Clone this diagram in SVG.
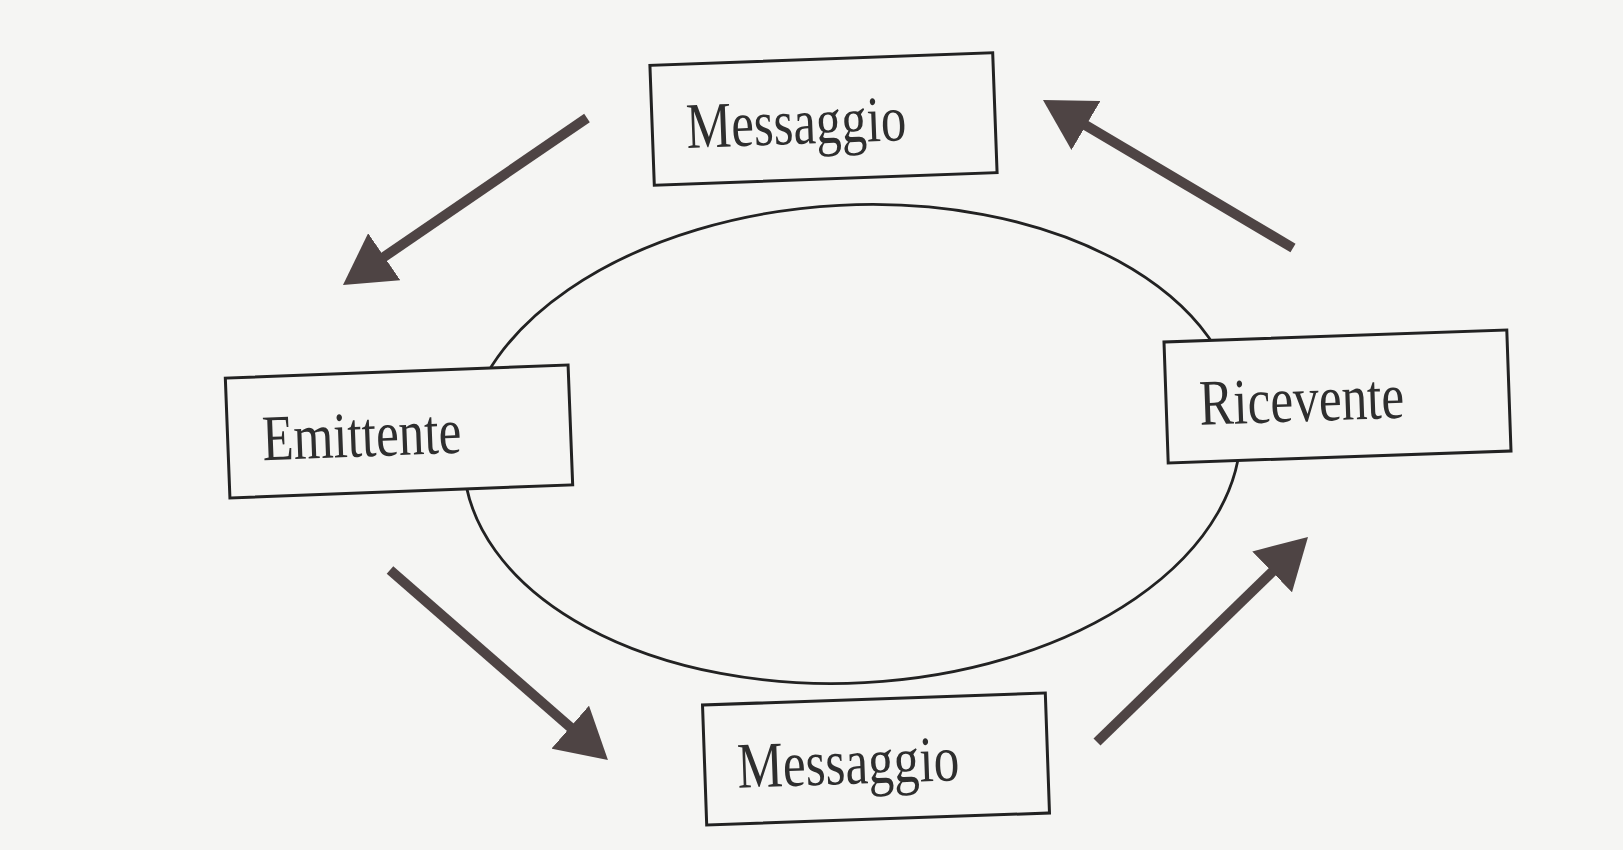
<svg xmlns="http://www.w3.org/2000/svg" width="1623" height="850" viewBox="0 0 1623 850">
<style>
.box{fill:#f5f5f3;stroke:#222;stroke-width:3}
.lbl{font-family:"Liberation Serif","Times New Roman",serif;font-size:65px;fill:#2e2e2e}
.arr{stroke:#4e4444;stroke-width:10;fill:none}
.ell{fill:none;stroke:#222;stroke-width:2.8}
</style>
<defs>
<marker id="head" viewBox="0 0 50 57" refX="10" refY="28.5" markerWidth="50" markerHeight="57" markerUnits="userSpaceOnUse" orient="auto">
<path d="M0,0 L50,28.5 L0,57 z" fill="#4e4444"/>
</marker>
</defs>
<rect width="1623" height="850" fill="#f5f5f3"/>
<ellipse class="ell" cx="852" cy="444" rx="389" ry="239" transform="rotate(-3 852 444)"/>
<g id="connectors">
<line class="arr" x1="587" y1="118" x2="376" y2="262.4" marker-end="url(#head)"/>
<line class="arr" x1="1293" y1="248" x2="1077.4" y2="120.4" marker-end="url(#head)"/>
<line class="arr" x1="390" y1="570" x2="577.8" y2="733.7" marker-end="url(#head)"/>
<line class="arr" x1="1097" y1="742" x2="1279.3" y2="564.9" marker-end="url(#head)"/>
</g>
<g id="messaggio-top" transform="rotate(-2.1 823.5 119)">
<rect class="box" x="652" y="59" width="343" height="120"/>
<text class="lbl" x="686" y="143" textLength="220" lengthAdjust="spacingAndGlyphs">Messaggio</text>
</g>
<g id="emittente" transform="rotate(-2.2 399 431.5)">
<rect class="box" x="227.5" y="371.5" width="343" height="120"/>
<text class="lbl" x="262" y="455" textLength="199" lengthAdjust="spacingAndGlyphs">Emittente</text>
</g>
<g id="ricevente" transform="rotate(-2.0 1337.5 396.5)">
<rect class="box" x="1166" y="336" width="343" height="121"/>
<text class="lbl" x="1199" y="420" textLength="205" lengthAdjust="spacingAndGlyphs">Ricevente</text>
</g>
<g id="messaggio-bottom" transform="rotate(-2.0 876 759)">
<rect class="box" x="704.5" y="699" width="343" height="120"/>
<text class="lbl" x="737" y="783" textLength="222" lengthAdjust="spacingAndGlyphs">Messaggio</text>
</g>
</svg>
